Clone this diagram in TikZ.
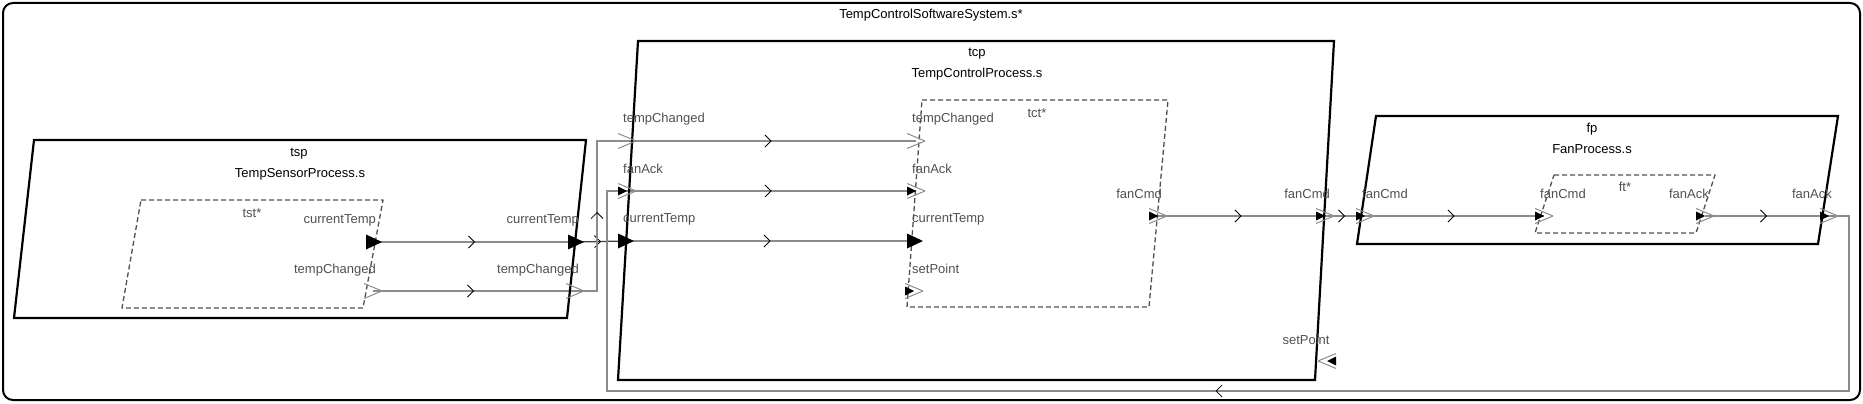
\documentclass[tikz,border=0pt]{standalone}
\usepackage{fontspec}
\setmainfont{Liberation Sans}
\usepackage{tikz}
\usetikzlibrary{arrows.meta}
\usetikzlibrary{decorations.markings}
\usetikzlibrary{backgrounds}
\definecolor{wiregray}{RGB}{140,140,140}
\definecolor{labelgray}{RGB}{80,80,80}

\tikzset{
  compbox/.style={line width=2.2pt, line join=miter},
  implbox/.style={color=labelgray, line width=1.3pt, dash pattern=on 5pt off 3pt},
  wire/.style={color=wiregray, line width=1.3pt},
  midarrow/.style={decoration={markings, mark=at position 0.5 with {\arrow[black,line width=0.8pt]{Straight Barb[length=6pt,width=12pt]}}}, postaction={decorate}},
  portlabel/.style={color=labelgray, inner sep=0pt},
  complabel/.style={color=black, inner sep=0pt},
  dport/.style={inner sep=0pt, minimum width=16pt, minimum height=15pt,
    path picture={\fill[black] (path picture bounding box.north west) -- (path picture bounding box.east) -- (path picture bounding box.south west) -- cycle;}},
  eport/.style={inner sep=0pt, minimum width=18pt, minimum height=15pt,
    path picture={\draw[wiregray,line width=1pt] (path picture bounding box.north west) -- (path picture bounding box.east) -- (path picture bounding box.south west);}},
  edport/.style={inner sep=0pt, minimum width=18pt, minimum height=15pt,
    path picture={\draw[wiregray,line width=1pt] (path picture bounding box.north west) -- (path picture bounding box.east) -- (path picture bounding box.south west);
      \fill[black] (path picture bounding box.west) ++(0,-4.5) -- ++(9,4.5) -- ++(-9,4.5) -- cycle;}},
  edportl/.style={inner sep=0pt, minimum width=18pt, minimum height=15pt,
    path picture={\draw[wiregray,line width=1pt] (path picture bounding box.north east) -- (path picture bounding box.west) -- (path picture bounding box.south east);
      \fill[black] (path picture bounding box.east) ++(0,-4.5) -- ++(-9,4.5) -- ++(9,4.5) -- cycle;}}
}

\begin{document}
\begin{tikzpicture}[x=1pt,y=-1pt,line cap=butt,line join=round,font=\fontsize{13pt}{15pt}\selectfont]
\useasboundingbox (0,0) rectangle (1863,404);
\draw [line width=2pt][rounded corners=10pt] (3,3) rectangle (1860,400);
\node[complabel] (sysname) at (931,15) {TempControlSoftwareSystem.s*};

% tsp
\draw [compbox] (34,140) -- (586,140) -- (567,318) -- (14,318) -- cycle;
\node[complabel] (tspname) at (299,154) {tsp};
\node[complabel] (tsptype) at (300,174) {TempSensorProcess.s};
\draw [implbox] (141,200) -- (383,200) -- (363,308) -- (122,308) -- cycle;
\node[portlabel] (tstname) at (252,213) {tst*};

% tcp
\draw [compbox] (638,41) -- (1334,41) -- (1315,380) -- (618,380) -- cycle;
\node[complabel] (tcpname) at (977,54) {tcp};
\node[complabel] (tcptype) at (977,74) {TempControlProcess.s};
\draw [implbox] (922,100) -- (1168,100) -- (1149,307) -- (907,307) -- cycle;
\node[portlabel] (tctname) at (1037,113) {tct*};

% fp
\draw [compbox] (1376,116) -- (1838,116) -- (1818,244) -- (1357,244) -- cycle;
\node[complabel] (fpname) at (1592,129) {fp};
\node[complabel] (fptype) at (1592,149) {FanProcess.s};
\draw [implbox] (1554,175) -- (1715,175) -- (1696,233) -- (1535,233) -- cycle;
\node[portlabel] (ftname) at (1625,187) {ft*};

% ports
\node[dport] (tstCT) at (374,242) {};
\node[eport] (tstTC) at (373,291) {};
\node[dport] (tspCT) at (576,242) {};
\node[eport] (tspTC) at (575,291) {};
\node[eport] (tcpTC) at (627,141) {};
\node[edport] (tcpFA) at (627,191) {};
\node[dport] (tcpCT) at (626,241) {};
\node[eport] (tctTC) at (916,141) {};
\node[edport] (tctFA) at (916,191) {};
\node[dport] (tctCT) at (915,241) {};
\node[edport] (tctSP) at (914,291) {};
\node[edport] (tctFC) at (1158,216) {};
\node[edport] (tcpFC) at (1325,216) {};
\node[edportl] (tcpSP) at (1327,361) {};
\node[edport] (fpFC) at (1365,216) {};
\node[edport] (ftFC) at (1544,216) {};
\node[edport] (ftFA) at (1705,216) {};
\node[edport] (fpFA) at (1829,216) {};

% port labels
\node[portlabel,anchor=east] (tstCTl) at (376,220) {currentTemp};
\node[portlabel,anchor=east] (tstTCl) at (376,270) {tempChanged};
\node[portlabel,anchor=east] (tspCTl) at (579,220) {currentTemp};
\node[portlabel,anchor=east] (tspTCl) at (579,270) {tempChanged};
\node[portlabel,anchor=west] (tcpTCl) at (623,119) {tempChanged};
\node[portlabel,anchor=west] (tcpFAl) at (623,169) {fanAck};
\node[portlabel,anchor=west] (tcpCTl) at (623,219) {currentTemp};
\node[portlabel,anchor=west] (tctTCl) at (912,119) {tempChanged};
\node[portlabel,anchor=west] (tctFAl) at (912,169) {fanAck};
\node[portlabel,anchor=west] (tctCTl) at (912,219) {currentTemp};
\node[portlabel,anchor=west] (tctSPl) at (912,269) {setPoint};
\node[portlabel,anchor=east] (tctFCl) at (1162,194) {fanCmd};
\node[portlabel,anchor=east] (tcpFCl) at (1330,194) {fanCmd};
\node[portlabel] (tcpSPl) at (1306,340) {setPoint};
\node[portlabel,anchor=west] (fpFCl) at (1362,194) {fanCmd};
\node[portlabel,anchor=west] (ftFCl) at (1540,194) {fanCmd};
\node[portlabel,anchor=east] (ftFAl) at (1709,194) {fanAck};
\node[portlabel,anchor=east] (fpFAl) at (1832,194) {fanAck};

% bends
\coordinate (tcup1) at (597,291);
\coordinate (tcup2) at (597,141);
\coordinate (faback1) at (1849,216);
\coordinate (faback2) at (1849,391);
\coordinate (faback3) at (607,391);
\coordinate (faback4) at (607,191);

% connections
\begin{scope}[on background layer]
\draw [wire,midarrow] (tstCT.center) -- (tspCT.center);
\draw [wire,midarrow] (tstTC.center) -- (tspTC.center);
\draw [wire,midarrow][color=black!75] (tspCT.center) -- (tcpCT.center);
\draw [wire,midarrow] (tspTC.center) -- (tcup1) -- (tcup2) -- (tcpTC.center);
\draw [wire,midarrow] (tcpTC.center) -- (tctTC.center);
\draw [wire,midarrow] (tcpFA.center) -- (tctFA.center);
\draw [wire,midarrow] (tcpCT.center) -- (tctCT.center);
\draw [wire,midarrow] (tctFC.center) -- (tcpFC.center);
\draw [wire,midarrow] (tcpFC.center) -- (fpFC.center);
\draw [wire,midarrow] (fpFC.center) -- (ftFC.center);
\draw [wire,midarrow] (ftFA.center) -- (fpFA.center);
\draw [wire,midarrow] (fpFA.center) -- (faback1) -- (faback2) -- (faback3) -- (faback4) -- (tcpFA.center);
\end{scope}
\end{tikzpicture}
\end{document}
